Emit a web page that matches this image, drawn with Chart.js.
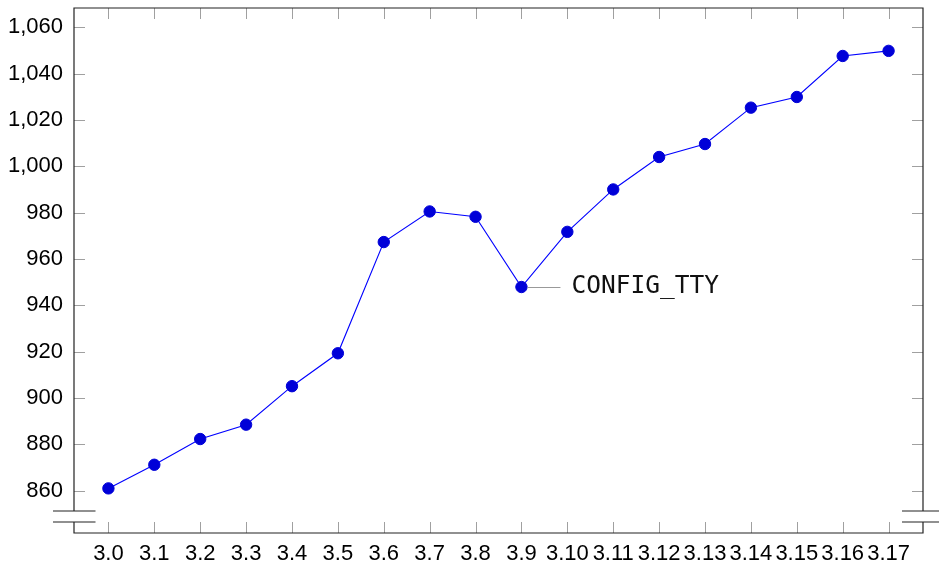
<!DOCTYPE html>
<html>
<head>
<meta charset="utf-8">
<script src="https://cdn.jsdelivr.net/npm/chart.js@4"></script>
<style>
  html, body { margin: 0; padding: 0; background: #fff; }
  #wrap { width: 939px; height: 563px; }
</style>
</head>
<body>
<div id="wrap"><canvas id="chart" width="939" height="563"></canvas></div>
<script>
// --- DATA ---
const versions = ['3.0', '3.1', '3.2', '3.3', '3.4', '3.5', '3.6', '3.7', '3.8', '3.9',
                  '3.10', '3.11', '3.12', '3.13', '3.14', '3.15', '3.16', '3.17'];
const configCount = [861, 871.2, 882.3, 888.5, 905.1, 919.3, 967.3, 980.5, 978.2, 947.9,
                     971.7, 990, 1004, 1009.6, 1025.3, 1029.9, 1047.6, 1049.8];
const yTicks = [860, 880, 900, 920, 940, 960, 980, 1000, 1020, 1040, 1060];
const noteIndex = 9;
const noteText = 'CONFIG_TTY';

const FONT = '"Liberation Sans", Arial, sans-serif';
const TICK_LEN = 11;

// frame, inner ticks on all sides and the axis-break marks
const framePlugin = {
    id: 'frame',
    beforeDatasetsDraw(chart) {
        const { ctx, chartArea: a, scales } = chart;
        const xs = scales.x, ys = scales.y;
        ctx.save();

        // inner ticks (gray)
        ctx.strokeStyle = '#a0a0a0';
        ctx.lineWidth = 1;
        ctx.beginPath();
        versions.forEach((_, i) => {
            const px = Math.round(xs.getPixelForValue(i)) + 0.5;
            ctx.moveTo(px, a.bottom); ctx.lineTo(px, a.bottom - TICK_LEN);
            ctx.moveTo(px, a.top); ctx.lineTo(px, a.top + TICK_LEN);
        });
        yTicks.forEach(v => {
            const py = Math.round(ys.getPixelForValue(v)) + 0.5;
            ctx.moveTo(a.left, py); ctx.lineTo(a.left + TICK_LEN, py);
            ctx.moveTo(a.right, py); ctx.lineTo(a.right - TICK_LEN, py);
        });
        ctx.stroke();

        // frame with a gap for the axis break
        const b1 = a.bottom - 22, b2 = a.bottom - 11;
        ctx.strokeStyle = '#222';
        ctx.lineWidth = 1.2;
        ctx.beginPath();
        ctx.moveTo(a.left, b1); ctx.lineTo(a.left, a.top);
        ctx.lineTo(a.right, a.top); ctx.lineTo(a.right, b1);
        ctx.moveTo(a.left, b2); ctx.lineTo(a.left, a.bottom);
        ctx.lineTo(a.right, a.bottom); ctx.lineTo(a.right, b2);
        // break marks
        [b1, b2].forEach(y => {
            ctx.moveTo(a.left - 21, y); ctx.lineTo(a.left + 21.5, y);
            ctx.moveTo(a.right - 21, y); ctx.lineTo(a.right + 17, y);
        });
        ctx.stroke();
        ctx.restore();
    },
    afterDatasetsDraw(chart) {
        // annotation for the dip
        const { ctx } = chart;
        const pt = chart.getDatasetMeta(0).data[noteIndex];
        ctx.save();
        ctx.strokeStyle = '#999';
        ctx.lineWidth = 1;
        ctx.beginPath();
        ctx.moveTo(pt.x + 6, Math.round(pt.y) + 0.5);
        ctx.lineTo(pt.x + 39, Math.round(pt.y) + 0.5);
        ctx.stroke();
        ctx.fillStyle = '#111';
        ctx.font = '24.5px "DejaVu Sans Mono", monospace';
        ctx.textBaseline = 'middle';
        ctx.fillText(noteText, pt.x + 50, pt.y);
        ctx.restore();
    }
};

const ctx = document.getElementById('chart').getContext('2d');
new Chart(ctx, {
    type: 'line',
    data: {
        datasets: [{
            data: configCount.map((v, i) => ({ x: i, y: v })),
            borderColor: '#0000ff',
            borderWidth: 1.1,
            backgroundColor: '#0000d8',
            pointBackgroundColor: '#0000d8',
            pointBorderColor: '#0000d8',
            pointBorderWidth: 1,
            pointRadius: 5.7,
            tension: 0,
            fill: false
        }]
    },
    options: {
        responsive: false,
        animation: false,
        events: [],
        layout: { padding: { top: 8, right: 16, left: 0, bottom: 0 } },
        plugins: { legend: { display: false }, tooltip: { enabled: false } },
        scales: {
            x: {
                type: 'linear',
                min: -0.75,
                max: 17.75,
                border: { display: false },
                grid: { display: false, drawTicks: false },
                afterFit(s) { s.height = 30; s.paddingLeft = 0; s.paddingRight = 0; },
                afterBuildTicks(s) { s.ticks = versions.map((_, i) => ({ value: i })); },
                ticks: {
                    autoSkip: false,
                    maxRotation: 0,
                    padding: 8,
                    color: '#000',
                    font: { family: FONT, size: 22 },
                    callback: v => versions[v]
                }
            },
            y: {
                min: 841.75,
                max: 1068.3,
                border: { display: false },
                grid: { display: false, drawTicks: false },
                afterFit(s) { s.width = 74; s.paddingTop = 0; s.paddingBottom = 0; },
                afterBuildTicks(s) { s.ticks = yTicks.map(v => ({ value: v })); },
                ticks: {
                    padding: 11,
                    color: '#000',
                    font: { family: FONT, size: 22 },
                    callback: v => v.toLocaleString('en-US')
                }
            }
        }
    },
    plugins: [framePlugin]
});
</script>
</body>
</html>
